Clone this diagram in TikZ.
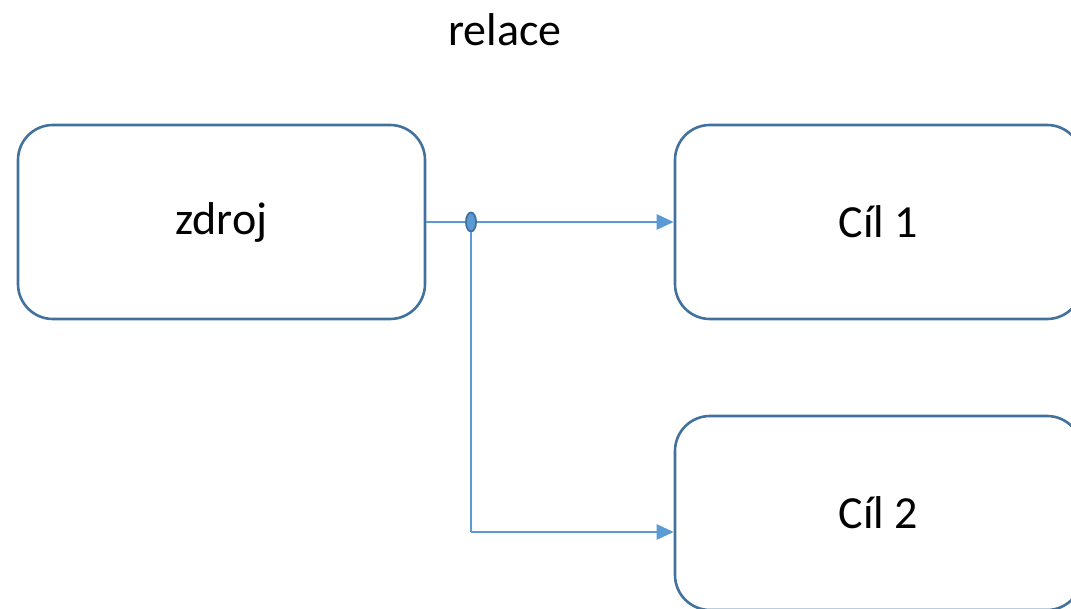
\documentclass[tikz,border=0pt]{standalone}
\usepackage{fontspec}
\setmainfont{Carlito}
\usetikzlibrary{arrows.meta,shapes.geometric}
\definecolor{boxline}{HTML}{41719C}
\definecolor{linkline}{HTML}{5B9BD5}
\tikzset{
box/.style={draw=boxline, line width=2.6pt, rounded corners=35pt, minimum width=407pt, minimum height=194pt, font=\fontsize{46}{54}\selectfont},
link/.style={draw=linkline, line width=2.6pt},
tip/.style={-{Triangle[length=17pt,width=15pt]}}
}
\begin{document}
\begin{tikzpicture}
[x=1pt, y=-1pt]
\useasboundingbox (0,0) rectangle (1071,609);
\clip (0,0) rectangle (1071,609);
\node (title) at (505,30) [font=\fontsize{46}{54}\selectfont] {relace};
\node [box] (zdroj) at (221.5,222) {zdroj};
\node [box] (cil1) at (878.5,222) {Cíl 1};
\node [box] (cil2) at (878.5,513) {Cíl 2};
\node [ellipse, draw=boxline, fill=linkline, line width=1.8pt, minimum width=10pt, minimum height=19pt, inner sep=0pt] (split) at (471,222) {};
\coordinate (corner) at (471,532);
\draw [link] (zdroj.east) -- (split);
\draw [link, tip] (split) -- (cil1.west);
\draw [link] (split) -- (corner);
\draw [link, tip] (corner) -- (corner -| cil2.west);
\end{tikzpicture}
\end{document}
